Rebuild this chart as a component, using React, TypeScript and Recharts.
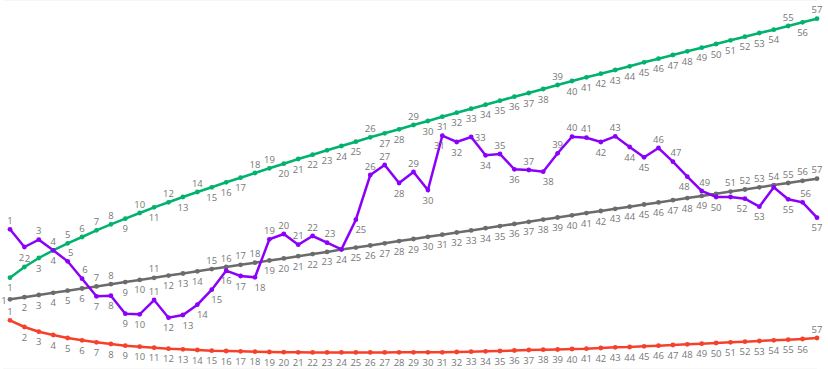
import React from "react";
import { LineChart, Line, XAxis, YAxis, CartesianGrid } from "recharts";

const categories = [
  1, 2, 3, 4, 5, 6, 7, 8, 9, 10, 11, 12, 13, 14, 15, 16, 17, 18, 19, 20,
  21, 22, 23, 24, 25, 26, 27, 28, 29, 30, 31, 32, 33, 34, 35, 36, 37, 38, 39, 40,
  41, 42, 43, 44, 45, 46, 47, 48, 49, 50, 51, 52, 53, 54, 55, 56, 57,
];

const greenValues = [
  110.3, 121, 130, 137.7, 144.7, 151, 157.7, 163.7, 169.3, 175, 180.7, 185.7, 191, 196, 200.7,
  205.7, 210.3, 215, 219.7, 224.3, 229, 233.3, 237.7, 242, 246.3, 250.7, 254.7, 258.7, 263, 267,
  271.3, 275.3, 279.3, 283.3, 287.3, 291.3, 295, 299, 303, 307, 310.7, 314.3, 318, 321.7, 325.7,
  329.3, 333, 336.7, 340.3, 344, 347.7, 351.3, 355, 358.3, 362, 365.7, 369.3,
];

const grayValues = [
  88.7, 90.8, 93.0, 95.2, 97.3, 99.5, 101.6, 103.8, 105.9, 108.1, 110.2, 112.4, 114.5, 116.7,
  118.9, 121.0, 123.2, 125.3, 127.5, 129.6, 131.8, 133.9, 136.1, 138.4, 140.4, 142.5, 144.7,
  146.9, 149.0, 151.2, 153.3, 155.5, 157.6, 159.8, 161.9, 164.1, 166.2, 168.4, 170.5, 172.7,
  174.9, 177.0, 179.2, 181.3, 183.5, 185.6, 187.8, 189.9, 192.1, 194.2, 196.4, 198.5, 200.7,
  202.9, 205.0, 207.2, 209.3,
];

const redValues = [
  67.7, 61, 56.3, 53, 50, 47.7, 45.7, 44, 42.3, 41.3, 40.3, 39.3, 38.7, 38, 37.3, 37, 36.7, 36.3,
  36, 35.8, 35.7, 35.6, 35.6, 35.6, 35.6, 35.6, 35.6, 35.7, 35.7, 35.7, 35.7, 36, 36.3, 36.7, 37,
  37.5, 38, 38.3, 38.5, 39, 39.3, 40, 40.7, 41, 41.7, 42.3, 43, 43.7, 44.3, 45, 45.7, 46.3, 47,
  47.7, 48.3, 49, 50,
];

const purpleValues = [
  158.7, 141, 148.3, 137.7, 126.7, 109.3, 91.7, 92.3, 74.3, 73.7, 88, 70.3, 73, 83.3, 98.3, 117.3,
  112, 110.7, 148.7, 154, 143.3, 152, 145.3, 138.7, 168.3, 213, 223, 205, 216, 198, 252.3, 246,
  251, 232.7, 234, 218.7, 218, 216.3, 234.7, 251.3, 250.3, 246, 251.7, 241, 230.7, 240, 226.3,
  211.3, 197, 191, 191, 189.3, 181.3, 200.7, 188.7, 185.7, 170.3,
];

const gridTicks = [43, 86, 129, 172, 216, 259, 302, 345];

// label placement codes: a above, b below, l left, r right, c below-right, d above-right, e below-left, n none
const greenPos = "bdbaaaaababab" + "abbbaab" + "bbbbb" + "abbab" + "bbbbbbbb" + "a" + "bbbbbbbbbbbbbbb" + "aba";
const grayPos =
  "l" + "bbbbb" + "aa" + "bb" + "a" + "bbb" + "aaaa" + "b".repeat(31) + "n" + "aaaaaaa";
const redPos = "a" + "b".repeat(55) + "a";
const purplePos = [
  "a", "e", "a", "b", "d", "d", "b", "b", "b", "b", "a", "b", "c", "c", "c", "b", "b", "c", "a", "a",
  "a", "a", "d", "n", "c", "a", "a", "b", "a", "b", "e", "b", "r", "b", "a", "b", "a", "c", "a", "a",
  "a", "b", "a", "b", "b", "a", "d", "e", "d", "b", "n", "e", "b", "n", "b", "d", "b",
].join("");

const data = categories.map((c, i) => ({
  idx: c,
  green: greenValues[i],
  gray: grayValues[i],
  red: redValues[i],
  purple: purpleValues[i],
}));

const LABEL_COLOR = "#777777";

function makeLabel(pos: string) {
  return (props: any) => {
    const { x, y, index } = props;
    if (x == null || y == null) return null;
    const code = pos[index] || "b";
    if (code === "n") return null;
    let dx = 0;
    let dy = 0;
    switch (code) {
      case "a": dy = -9; break;
      case "b": dy = 10; break;
      case "l": dx = -6; dy = 1; break;
      case "r": dx = 9; dy = 0; break;
      case "c": dx = 5; dy = 10; break;
      case "d": dx = 3; dy = -9; break;
      case "e": dx = -3; dy = 10; break;
    }
    return (
      <text
        key={`lbl-${index}`}
        x={x + dx}
        y={y + dy}
        textAnchor="middle"
        dominantBaseline="central"
        fontSize={9.5}
        fontFamily="'Open Sans', sans-serif"
        fill={LABEL_COLOR}
      >
        {categories[index]}
      </text>
    );
  };
}

const series = [
  { key: "red", color: "#F5412B", pos: redPos },
  { key: "gray", color: "#6B6B6B", pos: grayPos },
  { key: "green", color: "#00B26E", pos: greenPos },
  { key: "purple", color: "#8A00FA", pos: purplePos },
];

export default function App() {
  return (
    <div style={{ position: "absolute", left: 0, top: 0, width: 828, height: 369, background: "#fff" }}>
      <LineChart width={828} height={369} data={data} margin={{ top: 0, right: 11, bottom: 0, left: 3 }}>
        <CartesianGrid horizontal vertical={false} stroke="#f0f0f0" strokeWidth={1} />
        <XAxis dataKey="idx" type="number" domain={[1, 57]} hide padding={{ left: 7, right: 0 }} />
        <YAxis
          type="number"
          domain={[19, 388]}
          ticks={gridTicks}
          width={0}
          tick={false}
          tickLine={false}
          axisLine={{ stroke: "#f0f0f0" }}
          allowDataOverflow
        />
        {series.map((s) => (
          <Line
            key={s.key}
            dataKey={s.key}
            type="linear"
            stroke={s.color}
            strokeWidth={2.5}
            dot={{ r: 2.4, fill: s.color, stroke: "none" }}
            activeDot={false}
            isAnimationActive={false}
            label={makeLabel(s.pos)}
          />
        ))}
      </LineChart>
    </div>
  );
}
